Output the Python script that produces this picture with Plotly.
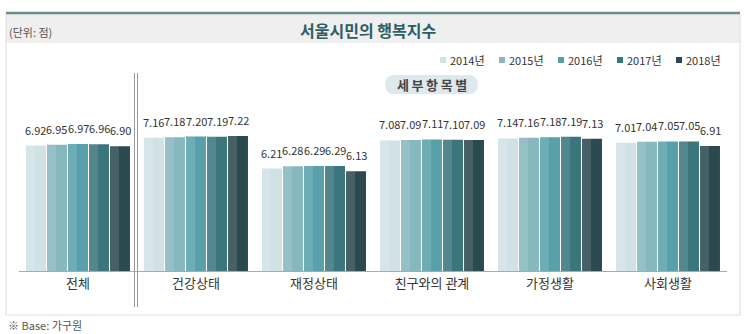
import plotly.graph_objects as go

categories = ["전체", "건강상태", "재정상태", "친구와의 관계", "가정생활", "사회생활"]
years = ["2014년", "2015년", "2016년", "2017년", "2018년"]
values = {
    "2014년": [6.92, 7.16, 6.21, 7.08, 7.14, 7.01],
    "2015년": [6.95, 7.18, 6.28, 7.09, 7.16, 7.04],
    "2016년": [6.97, 7.20, 6.29, 7.11, 7.18, 7.05],
    "2017년": [6.96, 7.19, 6.29, 7.10, 7.19, 7.05],
    "2018년": [6.90, 7.22, 6.13, 7.09, 7.13, 6.91],
}
colors = ["#d0e2e6", "#86b8be", "#58a1aa", "#3b767c", "#2b4a4f"]
title = "서울시민의 행복지수"
unit_text = "(단위: 점)"
badge_text = "세부항목별"
note_text = "※ Base: 가구원"

W, H = 745, 334
ML, MR, MT, MB = 19, 18, 109, 63
FONT = "Noto Sans CJK KR"


def px(x):
    return (x - ML) / (W - ML - MR)


def py(y):
    return (H - MB - y) / (H - MT - MB)


group_w = 0.89
slot_w = group_w / len(years)
bar_w = slot_w * 0.95

fig = go.Figure()
for i, yr in enumerate(years):
    off = -group_w / 2 + i * slot_w + (slot_w - bar_w) / 2
    fig.add_trace(go.Bar(
        name=yr, x=categories, y=values[yr], offset=off, width=bar_w,
        marker=dict(color=colors[i], line=dict(width=0)),
        showlegend=False,
    ))
    # lighter left half (two-tone look)
    fig.add_trace(go.Bar(
        name=yr, x=categories, y=values[yr], offset=off, width=bar_w * 0.45,
        marker=dict(color="rgba(255,255,255,0.13)", line=dict(width=0)),
        showlegend=False, hoverinfo="skip",
    ))

annotations = []
# value labels above bars
slot_px = slot_w * (W - ML - MR) / len(categories)
for i, yr in enumerate(years):
    for c, v in zip(categories, values[yr]):
        annotations.append(dict(
            x=c, y=v, xref="x", yref="y", text=f"{v:.2f}", showarrow=False,
            xshift=(i - 2) * slot_px, yshift=6, yanchor="bottom", xanchor="center",
            font=dict(family=FONT, size=11, color="#333333"),
        ))

# manual legend
shapes = []
for i, yr in enumerate(years):
    lx = 443 + i * 59
    shapes.append(dict(type="rect", xref="paper", yref="paper",
                       x0=px(lx - 3), x1=px(lx + 3), y0=py(57), y1=py(63),
                       fillcolor=colors[i], line=dict(width=0)))
    annotations.append(dict(x=px(lx + 5), y=py(60), xref="paper", yref="paper",
                            text=yr, showarrow=False, xanchor="left", yanchor="middle",
                            font=dict(family=FONT, size=11, color="#333333")))

# header band, top line, outer box
shapes.append(dict(type="rect", xref="paper", yref="paper", layer="below",
                   x0=px(6), x1=px(740), y0=py(43), y1=py(14),
                   fillcolor="#efefef", line=dict(width=0)))
shapes.append(dict(type="rect", xref="paper", yref="paper", layer="below",
                   x0=px(6), x1=px(740), y0=py(315), y1=py(13),
                   fillcolor="rgba(0,0,0,0)", line=dict(color="#dddddd", width=1)))
shapes.append(dict(type="line", xref="paper", yref="paper",
                   x0=px(6), x1=px(740), y0=py(13), y1=py(13),
                   line=dict(color="#6d8c8c", width=2.5)))
# double separator
for xx in (134.5, 137.5):
    shapes.append(dict(type="line", xref="paper", yref="paper",
                       x0=px(xx), x1=px(xx), y0=py(73), y1=py(307),
                       line=dict(color="#9a9a9a", width=1)))

# pill badge
x0, x1, y0, y1, r = 385, 478, 75, 94, 9.5
pts = [
    ("M", x0 + r, y0), ("L", x1 - r, y0), ("Q", x1, y0, x1, y0 + r),
    ("L", x1, y1 - r), ("Q", x1, y1, x1 - r, y1), ("L", x0 + r, y1),
    ("Q", x0, y1, x0, y1 - r), ("L", x0, y0 + r), ("Q", x0, y0, x0 + r, y0),
]
path = ""
for p in pts:
    cmd = p[0]
    coords = p[1:]
    s = []
    for k in range(0, len(coords), 2):
        s.append(f"{px(coords[k]):.5f},{py(coords[k+1]):.5f}")
    path += cmd + " ".join(s) + " "
path += "Z"
shapes.append(dict(type="path", xref="paper", yref="paper", path=path,
                   fillcolor="#dde9ec", line=dict(width=0)))
annotations.append(dict(x=px(431.5), y=py(84.5), xref="paper", yref="paper",
                        text=f"<b>{' '.join(badge_text)}</b>".replace(" ", "\u2009"),
                        showarrow=False, xanchor="center", yanchor="middle",
                        font=dict(family=FONT, size=13, color="#444444")))

annotations.append(dict(x=px(368), y=py(30), xref="paper", yref="paper",
                        text=f"<b>{title}</b>", showarrow=False,
                        xanchor="center", yanchor="middle",
                        font=dict(family=FONT, size=16, color="#2e5e63")))
annotations.append(dict(x=px(7), y=py(32), xref="paper", yref="paper",
                        text=unit_text, showarrow=False, xanchor="left", yanchor="middle",
                        font=dict(family=FONT, size=11, color="#555555")))
annotations.append(dict(x=px(6), y=py(325), xref="paper", yref="paper",
                        text=note_text, showarrow=False, xanchor="left", yanchor="middle",
                        font=dict(family=FONT, size=11, color="#555555")))

fig.update_layout(
    width=W, height=H,
    margin=dict(l=ML, r=MR, t=MT, b=MB, pad=0),
    paper_bgcolor="white", plot_bgcolor="white",
    barmode="overlay",
    showlegend=False,
    shapes=shapes, annotations=annotations,
    font=dict(family=FONT),
)
fig.update_xaxes(showline=True, linecolor="#aaaaaa", linewidth=1, ticks="",
                 tickfont=dict(family=FONT, size=13, color="#333333"),
                 showgrid=False, fixedrange=True)
fig.update_yaxes(range=[3.05, 8.05], visible=False, showgrid=False, fixedrange=True)

fig.write_html("out.html")
